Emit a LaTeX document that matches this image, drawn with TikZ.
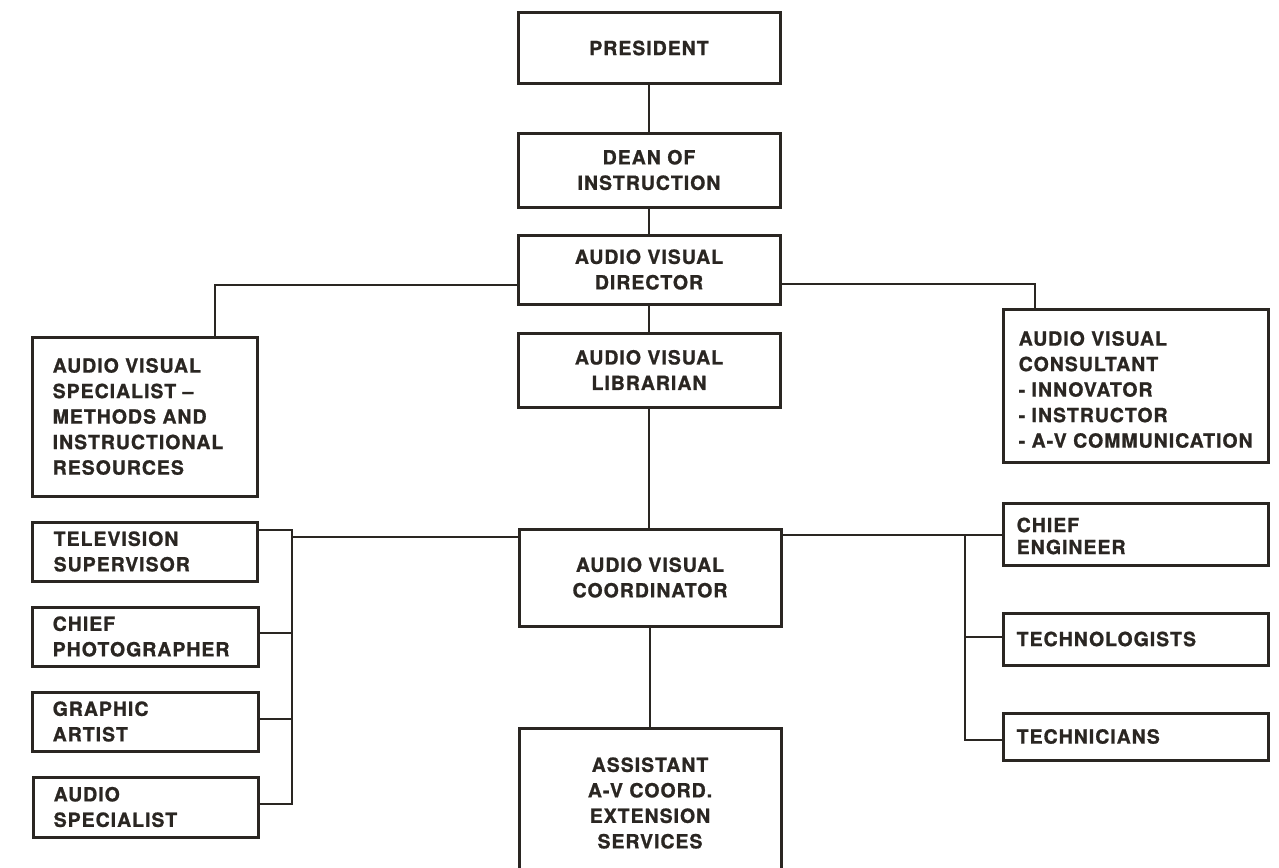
\documentclass[tikz,border=0pt]{standalone}
\usepackage{fontspec}
\newfontfamily\cf[LetterSpace=5,FakeBold=1]{TeX Gyre Heros}
\definecolor{ink}{HTML}{2A2622}
\tikzset{
  box/.style={draw=ink, line width=3pt, fill=white, inner sep=0pt},
  txt/.style={text=ink, inner sep=0pt, font=\cf\bfseries\fontsize{19.5}{25.5}\selectfont},
  wire/.style={draw=ink, line width=2.8pt},
}
% name, x1, y1, x2, y2
\newcommand\obox[5]{%
  \pgfmathsetmacro\ow{#4-#2}\pgfmathsetmacro\oh{#5-#3}%
  \node[box, minimum width=\ow pt, minimum height=\oh pt] (#1) at ({(#2+#4)/2},{(#3+#5)/2}) {};}
\begin{document}
\begin{tikzpicture}[x=1pt,y=-1pt]
\useasboundingbox (0,0) rectangle (1279,867);
\fill[white] (0,0) rectangle (1279,867);

% boxes
\obox{pres}{518}{13}{780}{83}
\obox{dean}{518}{133}{780}{207}
\obox{dir}{518}{235}{780}{304}
\obox{lib}{518}{333}{780}{407}
\obox{coord}{519}{529}{781}{626}
\obox{asst}{519}{728}{781}{874}
\obox{spec}{32}{337}{257}{496}
\obox{tv}{32}{522}{257}{581}
\obox{photo}{32}{607}{258}{666}
\obox{graph}{32}{692}{258}{751}
\obox{audio}{33}{777}{258}{837}
\obox{cons}{1003}{309}{1268}{462}
\obox{eng}{1003}{503}{1268}{565}
\obox{tlog}{1003}{613}{1268}{665}
\obox{tcn}{1003}{713}{1268}{760}

% texts (centred)
\node[txt] (pres-t) at (pres) {PRESIDENT};
\node[txt, align=center] (dean-t) at (dean) {DEAN OF\\INSTRUCTION};
\node[txt, align=center] (dir-t) at (dir) {AUDIO VISUAL\\DIRECTOR};
\node[txt, align=center] (lib-t) at (lib) {AUDIO VISUAL\\LIBRARIAN};
\node[txt, align=center] (coord-t) at (coord) {AUDIO VISUAL\\COORDINATOR};
\node[txt, align=center] (asst-t) at ([yshift=-2pt]asst) {ASSISTANT\\A-V COORD.\\EXTENSION\\SERVICES};
% texts (left)
\node[txt, align=left, anchor=west] (spec-t) at ([xshift=22pt]spec.west) {AUDIO VISUAL\\SPECIALIST –\\METHODS AND\\INSTRUCTIONAL\\RESOURCES};
\node[txt, align=left, anchor=west] (tv-t) at ([xshift=23pt]tv.west) {TELEVISION\\SUPERVISOR};
\node[txt, align=left, anchor=west] (photo-t) at ([xshift=22pt]photo.west) {CHIEF\\PHOTOGRAPHER};
\node[txt, align=left, anchor=west] (graph-t) at ([xshift=22pt]graph.west) {GRAPHIC\\ARTIST};
\node[txt, align=left, anchor=west] (audio-t) at ([xshift=22pt]audio.west) {AUDIO\\SPECIALIST};
\node[txt, align=left, anchor=west] (cons-t) at ([xshift=17pt,yshift=-4pt]cons.west) {AUDIO VISUAL\\CONSULTANT\\- INNOVATOR\\- INSTRUCTOR\\- A-V COMMUNICATION};
\node[txt, align=left, anchor=west, font=\cf\bfseries\fontsize{19.5}{22}\selectfont] (eng-t) at ([xshift=15pt,yshift=-2pt]eng.west) {CHIEF\\ENGINEER};
\node[txt, anchor=west] (tlog-t) at ([xshift=15pt]tlog.west) {TECHNOLOGISTS};
\node[txt, anchor=west] (tcn-t) at ([xshift=15pt]tcn.west) {TECHNICIANS};

% connectors
\draw[wire] (pres.south) -- (dean.north);
\draw[wire] (dean.south) -- (dir.north);
\draw[wire] (dir.south) -- (lib.north);
\draw[wire] (lib.south) -- (lib.south |- coord.north);
\draw[wire] (coord.south) -- (asst.north);
\draw[wire] (dir.west |- 0,285) -| (215,0 |- spec.north);
\draw[wire] (dir.east |- 0,284) -| (1035,0 |- cons.north);
% left bus
\coordinate (lbus-top) at (292,530);
\coordinate (lbus-bot) at (292,804);
\draw[wire] (tv.east |- lbus-top) -- (lbus-top) -- (lbus-bot) -- (audio.east |- lbus-bot);
\draw[wire] (photo.east |- 0,633) -- (292,633);
\draw[wire] (graph.east |- 0,719) -- (292,719);
\draw[wire] (coord.west |- 0,537) -- (292,537);
% right bus
\coordinate (rbus-top) at (965,535);
\coordinate (rbus-bot) at (965,740);
\draw[wire] (coord.east |- rbus-top) -- (eng.west |- rbus-top);
\draw[wire] (rbus-top) -- (rbus-bot) -- (tcn.west |- rbus-bot);
\draw[wire] (965,637) -- (tlog.west |- 0,637);
\end{tikzpicture}
\end{document}
